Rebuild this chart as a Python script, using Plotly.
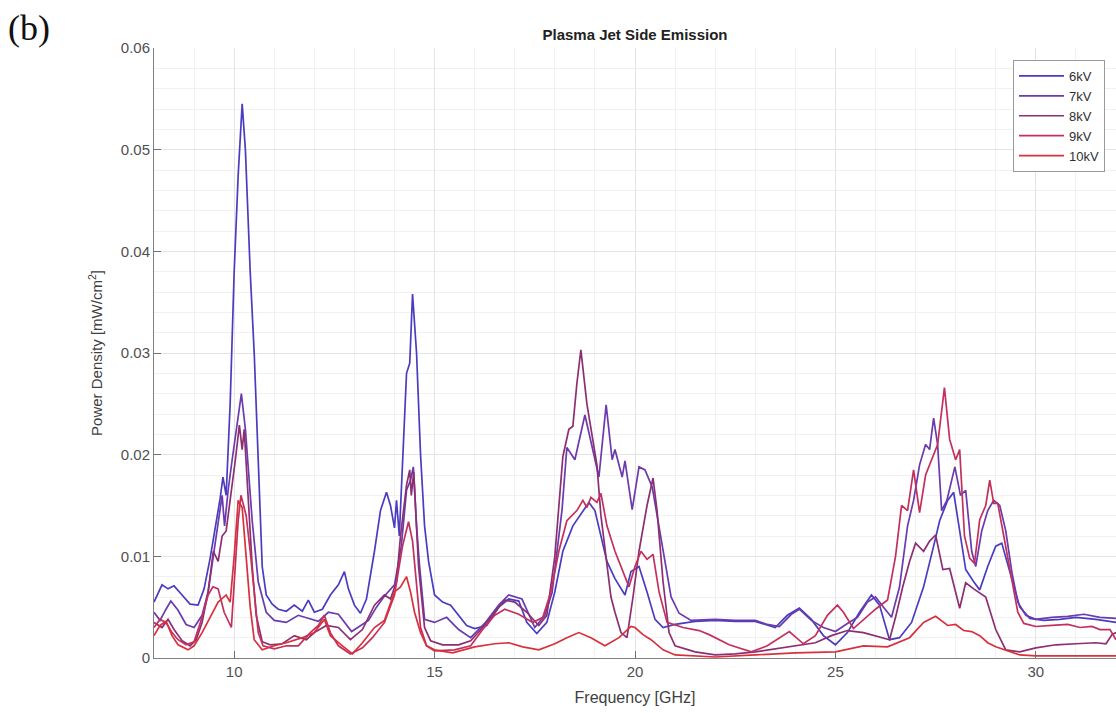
import plotly.graph_objects as go

series_names = ["6kV", "7kV", "8kV", "9kV", "10kV"]
series_colors = ["#4a3cc2", "#6a3aae", "#8c2f72", "#c4305c", "#d8303c"]

pts_6kV = [(8.0,0.0055),(8.2,0.0072),(8.35,0.0068),(8.5,0.0071),(8.7,0.0062),(8.9,0.0053),(9.1,0.0052),(9.25,0.0068),(9.4,0.0098),(9.55,0.0133),(9.65,0.0157),(9.72,0.0178),(9.8,0.016),(9.9,0.025),(10.0,0.038),(10.1,0.0475),(10.2,0.0545),(10.28,0.05),(10.4,0.038),(10.5,0.03),(10.6,0.019),(10.7,0.009),(10.8,0.0062),(10.95,0.0053),(11.1,0.0048),(11.3,0.0046),(11.5,0.0052),(11.7,0.0046),(11.85,0.0057),(12.0,0.0045),(12.2,0.0048),(12.4,0.0062),(12.6,0.0072),(12.75,0.0085),(12.85,0.0068),(13.0,0.0052),(13.15,0.0044),(13.3,0.0058),(13.5,0.0105),(13.65,0.0145),(13.8,0.0163),(13.9,0.015),(14.0,0.0128),(14.05,0.0155),(14.12,0.012),(14.2,0.0185),(14.3,0.028),(14.38,0.029),(14.45,0.0358),(14.55,0.03),(14.65,0.02),(14.75,0.013),(14.85,0.0095),(15.0,0.0062),(15.2,0.0055),(15.4,0.0052),(15.6,0.0042),(15.8,0.0032),(16.0,0.0029),(16.3,0.0032),(16.6,0.005),(16.85,0.0058),(17.1,0.0056),(17.3,0.0035),(17.55,0.0024),(17.8,0.0035),(18.0,0.0065),(18.2,0.0105),(18.45,0.013),(18.7,0.0145),(18.85,0.0153),(19.0,0.0145),(19.15,0.012),(19.3,0.0095),(19.5,0.0078),(19.75,0.0062),(19.9,0.0085),(20.1,0.009),(20.3,0.0065),(20.5,0.0038),(20.7,0.003),(21.0,0.0033),(21.5,0.0036),(22.0,0.0037),(22.5,0.0036),(23.0,0.0036),(23.5,0.003),(23.8,0.0042),(24.1,0.0049),(24.4,0.0038),(24.7,0.0022),(25.0,0.0013),(25.3,0.0025),(25.6,0.0045),(25.9,0.0062),(26.1,0.0052),(26.35,0.0018),(26.6,0.002),(26.9,0.0035),(27.2,0.007),(27.45,0.011),(27.6,0.0135),(27.8,0.0155),(27.95,0.0163),(28.1,0.0125),(28.25,0.0087),(28.45,0.0075),(28.6,0.0067),(28.8,0.009),(29.0,0.011),(29.15,0.0113),(29.35,0.0085),(29.6,0.005),(29.85,0.0039),(30.2,0.0037),(30.6,0.0038),(31.0,0.004),(31.5,0.0038),(32.0,0.0035)]

pts_7kV = [(8.0,0.0045),(8.15,0.0037),(8.3,0.0048),(8.42,0.0056),(8.6,0.0047),(8.8,0.0033),(9.0,0.003),(9.2,0.0042),(9.35,0.0065),(9.5,0.0105),(9.6,0.0135),(9.7,0.016),(9.76,0.013),(9.85,0.0165),(9.95,0.0195),(10.05,0.0225),(10.18,0.026),(10.28,0.0225),(10.36,0.0185),(10.45,0.0135),(10.6,0.0075),(10.8,0.0045),(11.0,0.0037),(11.3,0.0035),(11.6,0.0042),(11.9,0.0038),(12.1,0.0036),(12.35,0.0045),(12.6,0.0043),(12.93,0.0026),(13.15,0.0032),(13.35,0.0037),(13.55,0.005),(13.75,0.0061),(14.0,0.0072),(14.17,0.011),(14.3,0.0165),(14.4,0.0175),(14.47,0.0188),(14.55,0.013),(14.62,0.0093),(14.75,0.0038),(15.0,0.0035),(15.3,0.004),(15.6,0.0028),(15.9,0.002),(16.25,0.0034),(16.6,0.0052),(16.85,0.0062),(17.18,0.0058),(17.5,0.003),(17.75,0.0042),(17.93,0.0064),(18.05,0.0105),(18.18,0.0146),(18.3,0.0207),(18.5,0.0195),(18.75,0.0239),(18.93,0.0207),(19.1,0.0178),(19.28,0.0249),(19.43,0.0195),(19.5,0.0205),(19.68,0.0178),(19.75,0.0194),(19.93,0.0146),(20.1,0.0188),(20.25,0.0185),(20.43,0.0168),(20.6,0.013),(20.75,0.0096),(20.9,0.006),(21.1,0.0044),(21.4,0.0037),(22.0,0.0038),(22.5,0.0037),(23.0,0.0037),(23.3,0.0033),(23.6,0.0031),(23.9,0.0043),(24.1,0.0048),(24.4,0.0037),(24.7,0.003),(25.0,0.0026),(25.3,0.0034),(25.55,0.004),(25.8,0.0055),(26.0,0.006),(26.2,0.005),(26.4,0.004),(26.6,0.007),(26.8,0.013),(26.95,0.0155),(27.1,0.019),(27.25,0.021),(27.35,0.0205),(27.45,0.0236),(27.55,0.021),(27.65,0.0145),(27.78,0.0155),(27.98,0.0188),(28.12,0.016),(28.25,0.0165),(28.4,0.0105),(28.5,0.009),(28.65,0.0125),(28.8,0.0145),(28.95,0.0155),(29.1,0.015),(29.25,0.0125),(29.4,0.0085),(29.55,0.0055),(29.75,0.0042),(30.0,0.0038),(30.4,0.004),(30.8,0.0041),(31.2,0.0043),(31.6,0.004),(32.0,0.0039)]

pts_8kV = [(8.0,0.0035),(8.2,0.003),(8.35,0.0038),(8.5,0.0028),(8.7,0.0017),(8.9,0.0012),(9.05,0.0018),(9.2,0.0035),(9.35,0.0065),(9.48,0.0105),(9.6,0.0095),(9.7,0.012),(9.8,0.0125),(9.93,0.0162),(10.03,0.0195),(10.13,0.0229),(10.2,0.0205),(10.25,0.0225),(10.35,0.0155),(10.45,0.009),(10.55,0.0042),(10.7,0.0016),(10.9,0.0013),(11.2,0.0014),(11.5,0.0022),(11.8,0.0018),(12.0,0.0025),(12.3,0.0032),(12.6,0.003),(12.9,0.0018),(13.2,0.0028),(13.5,0.0052),(13.75,0.0062),(13.9,0.0058),(14.05,0.0075),(14.15,0.012),(14.3,0.017),(14.38,0.0185),(14.42,0.016),(14.48,0.0183),(14.6,0.009),(14.75,0.003),(14.9,0.0017),(15.2,0.0013),(15.6,0.0013),(15.9,0.0017),(16.2,0.003),(16.5,0.0045),(16.75,0.0057),(17.0,0.0055),(17.3,0.0045),(17.6,0.0032),(17.8,0.0042),(18.0,0.01),(18.2,0.0198),(18.35,0.0225),(18.45,0.0228),(18.55,0.027),(18.65,0.0303),(18.8,0.025),(18.95,0.0215),(19.05,0.019),(19.15,0.014),(19.3,0.009),(19.4,0.006),(19.5,0.0045),(19.65,0.0025),(19.8,0.002),(19.95,0.006),(20.1,0.0105),(20.3,0.015),(20.45,0.0177),(20.55,0.0145),(20.7,0.0075),(20.85,0.0025),(21.0,0.0012),(21.5,0.0006),(22.0,0.0003),(22.5,0.0004),(23.0,0.0006),(23.5,0.0009),(24.0,0.0012),(24.5,0.0015),(24.9,0.0022),(25.3,0.0027),(25.7,0.0025),(26.0,0.0022),(26.35,0.0018),(26.5,0.004),(26.68,0.007),(26.85,0.0095),(27.0,0.0113),(27.2,0.0105),(27.35,0.0115),(27.5,0.0121),(27.68,0.0087),(27.85,0.0088),(28.1,0.0049),(28.25,0.0074),(28.45,0.0068),(28.75,0.006),(29.0,0.0028),(29.25,0.0008),(29.6,0.0006),(30.0,0.001),(30.5,0.0013),(31.0,0.0014),(31.5,0.0015),(31.75,0.0014),(31.9,0.0023),(32.0,0.0025)]

pts_9kV = [(8.0,0.003),(8.15,0.0038),(8.3,0.0035),(8.45,0.0025),(8.6,0.0018),(8.8,0.0013),(9.0,0.0016),(9.2,0.004),(9.35,0.0062),(9.47,0.007),(9.6,0.0068),(9.75,0.0045),(9.93,0.003),(10.03,0.0096),(10.1,0.0135),(10.17,0.016),(10.3,0.014),(10.4,0.0105),(10.48,0.0075),(10.6,0.0025),(10.72,0.0012),(11.0,0.0009),(11.3,0.0012),(11.6,0.0012),(11.9,0.0025),(12.1,0.0032),(12.25,0.0042),(12.4,0.0025),(12.6,0.0012),(12.9,0.0004),(13.2,0.001),(13.45,0.002),(13.75,0.0035),(14.0,0.0062),(14.2,0.011),(14.35,0.0134),(14.45,0.0115),(14.55,0.0075),(14.65,0.003),(14.8,0.0012),(15.0,0.0007),(15.5,0.0008),(15.9,0.0012),(16.2,0.0028),(16.5,0.0042),(16.75,0.0048),(17.1,0.0043),(17.45,0.0035),(17.7,0.004),(17.9,0.0065),(18.1,0.0105),(18.3,0.0135),(18.55,0.0145),(18.7,0.0155),(18.8,0.0148),(18.9,0.0158),(19.05,0.0153),(19.15,0.0162),(19.3,0.013),(19.5,0.0105),(19.7,0.0085),(19.85,0.007),(20.0,0.009),(20.15,0.0105),(20.3,0.0097),(20.45,0.0102),(20.6,0.0065),(20.8,0.0035),(21.2,0.003),(21.6,0.0027),(21.85,0.0023),(22.35,0.0013),(22.9,0.0006),(23.3,0.0012),(23.85,0.0026),(24.2,0.0014),(24.5,0.0022),(24.8,0.0042),(25.05,0.0052),(25.2,0.0045),(25.45,0.0029),(25.7,0.0038),(26.0,0.0048),(26.3,0.0057),(26.5,0.01),(26.65,0.015),(26.8,0.0145),(26.95,0.0185),(27.1,0.0143),(27.25,0.018),(27.4,0.0195),(27.55,0.021),(27.72,0.0266),(27.85,0.0215),(28.0,0.0195),(28.1,0.0205),(28.22,0.012),(28.35,0.0098),(28.47,0.0093),(28.6,0.0136),(28.75,0.015),(28.85,0.0175),(28.95,0.0152),(29.05,0.0152),(29.2,0.012),(29.4,0.0075),(29.55,0.0045),(29.7,0.0034),(30.0,0.0031),(30.4,0.0032),(30.8,0.0033),(31.1,0.003),(31.4,0.0031),(31.6,0.0028),(31.85,0.0028),(32.0,0.0018)]

pts_10kV = [(8.0,0.0022),(8.15,0.0032),(8.3,0.0036),(8.45,0.0022),(8.6,0.0013),(8.85,0.0008),(9.0,0.0012),(9.2,0.0025),(9.4,0.004),(9.6,0.0055),(9.8,0.0062),(9.9,0.0055),(10.0,0.01),(10.1,0.0155),(10.2,0.0148),(10.3,0.01),(10.4,0.005),(10.5,0.0018),(10.7,0.0008),(11.0,0.0012),(11.3,0.0015),(11.7,0.002),(12.0,0.0025),(12.25,0.0038),(12.4,0.0022),(12.7,0.0012),(12.95,0.0004),(13.2,0.0015),(13.5,0.003),(13.75,0.0037),(14.0,0.0065),(14.15,0.007),(14.3,0.008),(14.4,0.0065),(14.5,0.0045),(14.65,0.0025),(14.8,0.0012),(15.0,0.0008),(15.45,0.0005),(16.0,0.0011),(16.5,0.0014),(16.85,0.0015),(17.2,0.0011),(17.6,0.0008),(18.0,0.0014),(18.3,0.002),(18.6,0.0025),(18.9,0.002),(19.25,0.0012),(19.6,0.002),(19.9,0.0031),(20.0,0.003),(20.2,0.0023),(20.4,0.0018),(20.7,0.0008),(21.0,0.0003),(22.0,0.0001),(23.0,0.0003),(24.0,0.0005),(25.0,0.0006),(25.7,0.0012),(26.3,0.0011),(26.85,0.002),(27.2,0.0035),(27.5,0.0041),(27.8,0.0032),(28.0,0.0033),(28.2,0.0027),(28.4,0.0026),(28.6,0.0022),(28.8,0.0015),(29.0,0.0011),(29.6,0.0003),(30.0,0.0002),(32.0,0.0002)]

x_ticks = [10, 15, 20, 25, 30]
y_ticks = [0, 0.01, 0.02, 0.03, 0.04, 0.05, 0.06]
y_tick_labels = ["0", "0.01", "0.02", "0.03", "0.04", "0.05", "0.06"]

all_pts = [pts_6kV, pts_7kV, pts_8kV, pts_9kV, pts_10kV]

fig = go.Figure()
for name, color, pts in zip(series_names, series_colors, all_pts):
    xs = [p[0] for p in pts]
    ys = [p[1] for p in pts]
    fig.add_trace(go.Scatter(x=xs, y=ys, mode="lines", name=name,
                             line=dict(color=color, width=1.7)))

W, H = 1116, 713
L, R, T, B = 154, 0, 48, 55
PW, PH = W - L - R, H - T - B

FONT = "Liberation Sans, Arial, sans-serif"
tick_font = dict(family=FONT, size=15, color="#505050")
fig.update_layout(
    width=W, height=H,
    margin=dict(l=L, r=R, t=T, b=B),
    paper_bgcolor="white", plot_bgcolor="white",
    title=dict(text="<b>Plasma Jet Side Emission</b>", x=635 / W, xanchor="center",
               y=1 - 35 / H, yanchor="middle",
               font=dict(family=FONT, size=15, color="#222222")),
    showlegend=True,
    legend=dict(x=(1105 - L) / PW, xanchor="right", y=1 - (60 - T) / PH, yanchor="top",
                bgcolor="white", bordercolor="#9a9a9a", borderwidth=1,
                font=dict(family=FONT, size=13, color="#303030"),
                tracegroupgap=0, itemwidth=45),
    xaxis=dict(range=[8, 32], tickvals=x_ticks, ticks="inside", ticklen=7, tickcolor="#707070",
               showline=True, linecolor="#808080", linewidth=1, zeroline=False,
               showgrid=True, gridcolor="#e4e4e4", gridwidth=1,
               minor=dict(dtick=1, showgrid=True, gridcolor="#f1f1f1", ticks=""),
               tickfont=tick_font,
               title=dict(text="Frequency [GHz]", standoff=12,
                          font=dict(family=FONT, size=16, color="#404040"))),
    yaxis=dict(range=[0, 0.06], tickvals=y_ticks, ticktext=y_tick_labels, ticks="inside", ticklen=7,
               tickcolor="#707070",
               showline=True, linecolor="#808080", linewidth=1, zeroline=False,
               showgrid=True, gridcolor="#e4e4e4", gridwidth=1,
               minor=dict(dtick=0.002, showgrid=True, gridcolor="#f1f1f1", ticks=""),
               tickfont=tick_font,
               title=dict(text="Power Density [mW/cm<sup>2</sup>]", standoff=14,
                          font=dict(family=FONT, size=15, color="#404040"))),
)

fig.add_annotation(text="(b)", xref="paper", yref="paper", x=-(L - 6) / PW, y=1 + (T - 28) / PH,
                   xanchor="left", yanchor="middle", showarrow=False,
                   font=dict(family="Liberation Serif, Times New Roman, serif", size=36, color="#111111"))

fig.write_html("out.html", config={"displayModeBar": False},
               post_script="document.documentElement.style.margin='0';document.body.style.margin='0';"
                           "document.body.style.overflow='hidden';document.documentElement.style.overflow='hidden';")
